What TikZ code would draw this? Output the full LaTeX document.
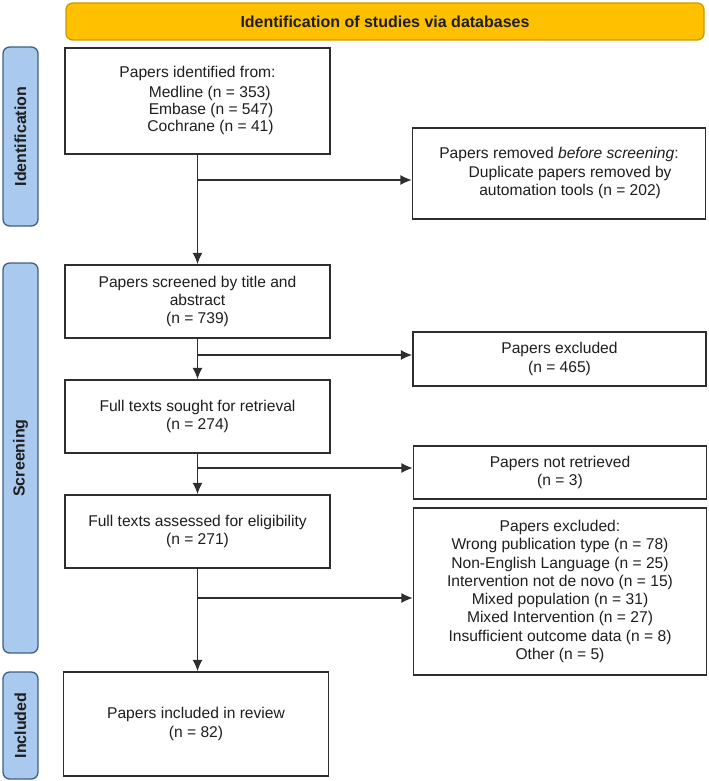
\documentclass[tikz,border=0pt]{standalone}
\usepackage{fontspec}
\setmainfont{Liberation Sans}
\usetikzlibrary{arrows.meta,calc}
\definecolor{lineC}{HTML}{2E2E2E}
\definecolor{txtC}{HTML}{1E1E1E}
\definecolor{barBlue}{HTML}{A9C9EE}
\definecolor{barBlueD}{HTML}{3F5F86}
\definecolor{barYel}{HTML}{FFC000}
\definecolor{barYelD}{HTML}{C99A00}
\tikzset{
  box/.style={draw=lineC, line width=1.2pt, fill=white, rectangle, align=center, inner sep=2pt,
    text=txtC, font=\fontsize{11.7}{13.7}\selectfont},
  lbox/.style={box, minimum width=198.75pt},
  rbox/.style={box, minimum width=219.75pt},
  sidebar/.style={draw=barBlueD, fill=barBlue, line width=1pt, rounded corners=5pt},
  sidetext/.style={rotate=90, font=\fontsize{12}{14}\selectfont\bfseries, text=txtC},
  arr/.style={draw=lineC, line width=1pt, -{Latex[length=8.5pt,width=7.5pt]}},
  ln/.style={draw=lineC, line width=1pt}
}
\begin{document}
\begin{tikzpicture}[x=0.75pt,y=-0.75pt]
\useasboundingbox (0,0) rectangle (709,781);
% header
\draw[draw=barYelD, fill=barYel, line width=1pt, rounded corners=5pt] (66,3) rectangle (704,40);
\node[font=\fontsize{12}{14}\selectfont\bfseries, text=txtC] (title) at (385,21.5) {Identification of studies via databases};
% side bars
\draw[sidebar] (3,47) rectangle (38,226);
\node[sidetext] (sideid) at (20.5,136.5) {Identification};
\draw[sidebar] (3,263) rectangle (38,653);
\node[sidetext] (sidescr) at (20.5,458) {Screening};
\draw[sidebar] (3,672) rectangle (38,779);
\node[sidetext] (sideinc) at (20.5,725.5) {Included};
% left column
\node[lbox, minimum height=79.5pt, font=\fontsize{11.7}{12.8}\selectfont] (b1) at (197.5,101) {\begin{tabular}{@{}l@{}}Papers identified from:\\[2pt]
\hspace*{22pt}Medline (n = 353)\\
\hspace*{22pt}Embase (n = 547)\\
\hspace*{21pt}Cochrane (n = 41)\end{tabular}};
\node[lbox, minimum height=54.75pt] (b2) at (197.5,301.5) {Papers screened by title and\\abstract\\(n = 739)};
\node[lbox, minimum height=54.75pt] (b3) at (197.5,416.5) {Full texts sought for retrieval\\(n = 274)};
\node[lbox, minimum height=54.75pt] (b4) at (197.5,531.5) {Full texts assessed for eligibility\\(n = 271)};
\node[lbox, minimum height=78pt] (b5) at (196,724) {Papers included in review\\(n = 82)};
% right column
\node[rbox, minimum height=68.25pt] (r1) at (559,173.5) {\begin{tabular}{@{}l@{}}Papers removed \textit{before screening}:\\
\hspace*{22pt}\begin{tabular}{@{}c@{}}Duplicate papers removed by\\automation tools (n = 202)\end{tabular}\end{tabular}};
\node[rbox, minimum height=40.5pt] (r2) at (559.5,359) {Papers excluded\\(n = 465)};
\node[rbox, minimum height=39.75pt] (r3) at (560,472.5) {Papers not retrieved\\(n = 3)};
\node[rbox, minimum height=125.25pt] (r4) at (560,591.5) {Papers excluded:\\Wrong publication type (n = 78)\\Non-English Language (n = 25)\\Intervention not de novo (n = 15)\\Mixed population (n = 31)\\Mixed Intervention (n = 27)\\Insufficient outcome data (n = 8)\\Other (n = 5)};
% junctions
\coordinate (j1) at (197.5,180);
\coordinate (j2) at (197.5,355);
\coordinate (j3) at (197.5,468);
\coordinate (j4) at (197.5,598);
% connectors
\draw[arr] (b1.south) -- (b2.north);
\draw[arr] (b2.south) -- (b3.north);
\draw[arr] (b3.south) -- (b4.north);
\draw[arr] (b4.south) -- (b4.south |- b5.north);
\draw[arr] (j1) -- (j1 -| r1.west);
\draw[arr] (j2) -- (j2 -| r2.west);
\draw[arr] (j3) -- (j3 -| r3.west);
\draw[arr] (j4) -- (j4 -| r4.west);
\end{tikzpicture}
\end{document}
